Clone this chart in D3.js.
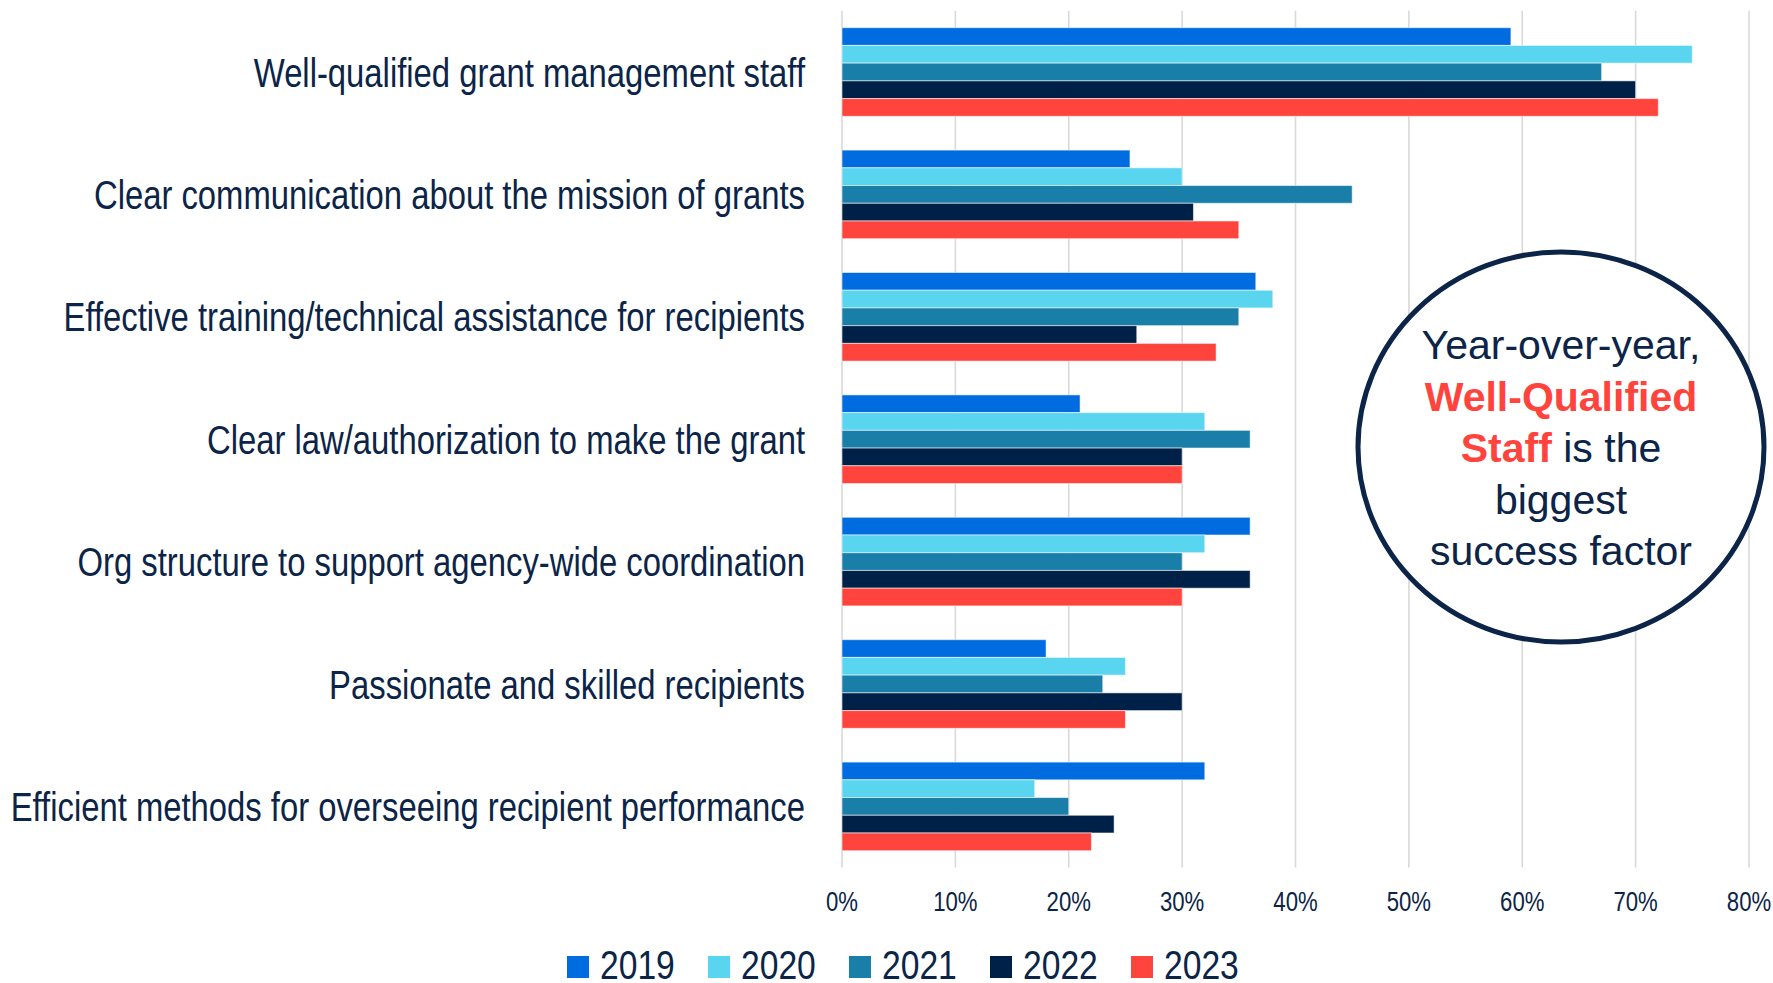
<!DOCTYPE html>
<head>
<meta charset="utf-8">
<script src="https://cdn.jsdelivr.net/npm/d3@7"></script>
<style>
  body { margin: 0; background: #fff; }
  svg { display: block; }
</style>
</head>
<body>
<svg id="chart" width="1773" height="983"></svg>
<script>
var categories = [
  'Well-qualified grant management staff',
  'Clear communication about the mission of grants',
  'Effective training/technical assistance for recipients',
  'Clear law/authorization to make the grant',
  'Org structure to support agency-wide coordination',
  'Passionate and skilled recipients',
  'Efficient methods for overseeing recipient performance'
]
var years = ['2019', '2020', '2021', '2022', '2023']
var colors = ['#006ce0', '#5ad5f0', '#1a7fa8', '#002147', '#ff443e']

// percent per category, one array per year
var v2019 = [59, 25.4, 36.5, 21, 36, 18, 32]
var v2020 = [75, 30, 38, 32, 32, 25, 17]
var v2021 = [67, 45, 35, 36, 30, 23, 20]
var v2022 = [70, 31, 26, 30, 36, 30, 24]
var v2023 = [72, 35, 33, 30, 30, 25, 22]
var series = [v2019, v2020, v2021, v2022, v2023]

var tickValues = [0, 10, 20, 30, 40, 50, 60, 70, 80]

var navy = '#0b2447'
var narrowFont = '"Liberation Sans", Arial, sans-serif'
var squeeze = 0.82   // no narrow face installed, so squeeze Arial-metric text
var svg = d3.select('#chart')

var x = d3.scaleLinear().domain([0, 80]).range([842, 1749])
var y = d3.scaleBand().domain(categories).range([10.8, 867.6])
          .paddingInner(0.276).paddingOuter(0.138)
var yy = d3.scaleBand().domain(years).range([0, y.bandwidth()])

function narrow(sel) {
  sel.each(function () {
    var w = this.getComputedTextLength()
    d3.select(this).attr('textLength', w * squeeze).attr('lengthAdjust', 'spacingAndGlyphs')
  })
}

// grid
svg.append('g').selectAll('line').data(tickValues).enter().append('line')
  .attr('x1', function (d) { return x(d) }).attr('x2', function (d) { return x(d) })
  .attr('y1', 10.8).attr('y2', 867.6)
  .attr('stroke', '#d9d9d9').attr('stroke-width', 1.6)

// tick labels
svg.append('g').selectAll('text').data(tickValues).enter().append('text')
  .attr('x', function (d) { return x(d) })
  .attr('y', 911)
  .attr('text-anchor', 'middle')
  .attr('font-family', narrowFont)
  .attr('font-size', 27)
  .attr('fill', navy)
  .text(function (d) { return d + '%' })
  .call(narrow)

// bars
var groups = svg.append('g').selectAll('g').data(categories).enter().append('g')
  .attr('transform', function (d) { return 'translate(0,' + y(d) + ')' })

groups.selectAll('rect')
  .data(function (d, i) { return years.map(function (yr, j) { return {year: yr, v: series[j][i], c: colors[j]} }) })
  .enter().append('rect')
  .attr('x', x(0))
  .attr('y', function (d) { return yy(d.year) })
  .attr('width', function (d) { return x(d.v) - x(0) })
  .attr('height', yy.bandwidth())
  .attr('fill', function (d) { return d.c })
  .attr('stroke', '#ffffff').attr('stroke-opacity', 0.55).attr('stroke-width', 1)

// category labels
svg.append('g').selectAll('text').data(categories).enter().append('text')
  .attr('x', 805)
  .attr('y', function (d) { return y(d) + y.bandwidth() / 2 + 14.5 })
  .attr('text-anchor', 'end')
  .attr('font-family', narrowFont)
  .attr('font-size', 40)
  .attr('fill', navy)
  .text(function (d) { return d })
  .call(narrow)

// legend
var leg = svg.append('g').selectAll('g').data(years).enter().append('g')
  .attr('transform', function (d, i) { return 'translate(' + (567 + i * 141) + ',956)' })
leg.append('rect').attr('width', 22).attr('height', 22)
  .attr('fill', function (d, i) { return colors[i] })
leg.append('text').attr('x', 33).attr('y', 23)
  .attr('font-family', narrowFont)
  .attr('font-size', 41)
  .attr('fill', navy)
  .text(function (d) { return d })
  .call(narrow)

// callout circle
var note = svg.append('g')
note.append('ellipse')
  .attr('cx', 1561).attr('cy', 447).attr('rx', 203).attr('ry', 195)
  .attr('fill', '#fff').attr('stroke', navy).attr('stroke-width', 5)

var noteLines = [
  [['Year-over-year,', false]],
  [['Well-Qualified', true]],
  [['Staff', true], [' is the', false]],
  [['biggest', false]],
  [['success factor', false]]
]
note.selectAll('text').data(noteLines).enter().append('text')
  .attr('x', 1561)
  .attr('y', function (d, i) { return 359 + i * 51.5 })
  .attr('text-anchor', 'middle')
  .attr('font-family', '"Liberation Sans", Arial, sans-serif')
  .attr('font-size', 41)
  .attr('xml:space', 'preserve')
  .each(function (d) {
    var t = d3.select(this)
    d.forEach(function (p) {
      t.append('tspan').text(p[0])
        .attr('fill', p[1] ? '#ff443e' : navy)
        .attr('font-weight', p[1] ? 'bold' : 'normal')
    })
  })
</script>
</body>
